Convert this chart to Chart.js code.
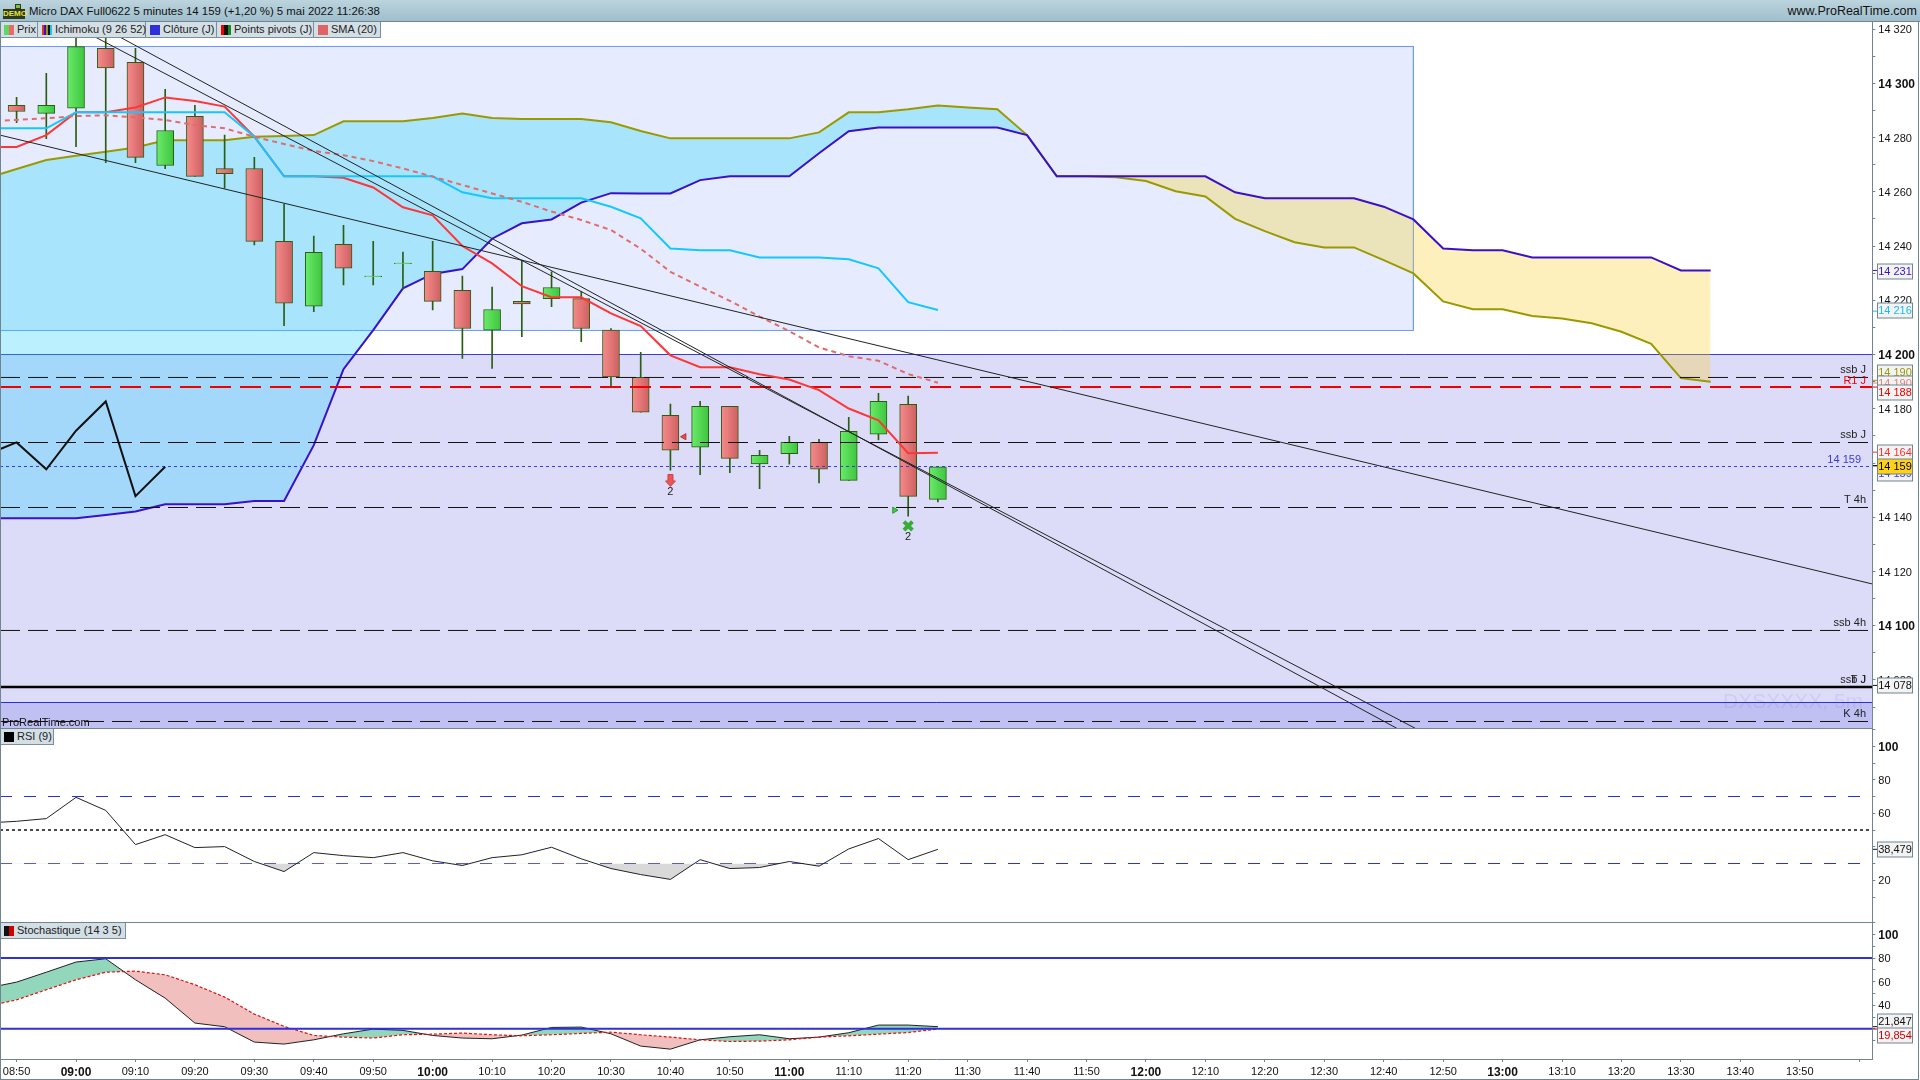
<!DOCTYPE html>
<html lang="fr">
<head>
<meta charset="UTF-8">
<title>Micro DAX Full0622</title>
<script src="https://cdn.jsdelivr.net/npm/chart.js"></script>
<style>
    html, body { margin: 0; padding: 0; background: #fff; width: 1920px; height: 1080px; overflow: hidden; font-family: "Liberation Sans", Arial, sans-serif; }
    canvas { position: absolute; left: 0; }
    .titlebar { position: absolute; left: 0; top: 0; width: 1920px; height: 21px; background: linear-gradient(#bcd4de, #9fbecc); border-bottom: 1px solid #6f8590; font-size: 11.4px; line-height: 22px; color: #111; }
    .titlebar .t1 { position: absolute; left: 29px; top: 0; white-space: nowrap; }
    .titlebar .t2 { position: absolute; right: 3px; top: 0; white-space: nowrap; font-size: 12.5px; }
    .logo { position: absolute; left: 3px; top: 9px; width: 22px; height: 10px; background: #2c3a22; color: #e8e23a; font: bold 8px/10px "Liberation Sans"; text-align: center; }
    .logo2 { position: absolute; left: 15px; top: 4px; width: 6px; height: 5px; background: #7fc23a; border: 1px solid #2c3a22; box-sizing: border-box; }
    .cell { position: absolute; height: 15px; background: #d3dee5; border: 1px solid #7b909b; border-top: none; border-left: none; font-size: 11px; line-height: 15px; color: #222; white-space: nowrap; box-sizing: content-box; z-index: 5; }
    .cell i { position: absolute; left: 4px; top: 3px; width: 10px; height: 10px; }
    .cell span { position: absolute; left: 17px; top: 0; }
    .frame { position: absolute; background: #6f8590; z-index: 6; }
    .credit { position: absolute; left: 2px; top: 716px; font-size: 11px; color: #111; z-index: 5; }
</style>
</head>
<body>
    <div class="titlebar">
        <div class="logo2"></div><div class="logo">DEMO</div>
        <div class="t1">Micro DAX Full0622 5 minutes 14 159 (+1,20 %) 5 mai 2022 11:26:38</div>
        <div class="t2">www.ProRealTime.com</div>
    </div>
    <div class="cell" style="left:0;top:22px;width:37px"><i style="background:linear-gradient(90deg,#5fd85f 50%,#e86a6a 50%)"></i><span>Prix</span></div>
    <div class="cell" style="left:38px;top:22px;width:107px"><i style="background:linear-gradient(90deg,#e03030 20%,#3a10c8 20%,#3a10c8 40%,#9a9a00 40%,#9a9a00 60%,#111 60%,#111 80%,#14c8ff 80%)"></i><span>Ichimoku (9 26 52)</span></div>
    <div class="cell" style="left:146px;top:22px;width:70px"><i style="background:#3030d8"></i><span>Clôture (J)</span></div>
    <div class="cell" style="left:217px;top:22px;width:96px"><i style="background:linear-gradient(90deg,#f00000 33%,#111 33%,#111 66%,#1a8a1a 66%)"></i><span>Points pivots (J)</span></div>
    <div class="cell" style="left:314px;top:22px;width:66px"><i style="background:#e06464"></i><span>SMA (20)</span></div>
    <div class="cell" style="left:0;top:729px;width:53px"><i style="background:#000"></i><span>RSI (9)</span></div>
    <div class="cell" style="left:0;top:923px;width:125px"><i style="background:linear-gradient(90deg,#111 50%,#d00000 50%)"></i><span>Stochastique (14 3 5)</span></div>
    <div class="credit">ProRealTime.com</div>

    <canvas id="priceChart" width="1920" height="706" style="top:22px"></canvas>
    <canvas id="rsiChart" width="1920" height="194" style="top:728px"></canvas>
    <canvas id="stochChart" width="1920" height="158" style="top:922px"></canvas>

    <div class="frame" style="left:0;top:22px;width:1px;height:1058px"></div>
    <div class="frame" style="left:1918px;top:22px;width:1px;height:1058px"></div>
    <div class="frame" style="left:0;top:728px;width:1873px;height:1px"></div>
    <div class="frame" style="left:0;top:922px;width:1873px;height:1px"></div>
    <div class="frame" style="left:0;top:1079px;width:1919px;height:1px"></div>

    <script>
        // time is in minutes after 08:50
        var timeSlots = [
            -5, 0, 5, 10, 15, 20, 25, 30, 35, 40,
            45, 50, 55, 60, 65, 70, 75, 80, 85, 90,
            95, 100, 105, 110, 115, 120, 125, 130, 135, 140,
            145, 150, 155, 160, 165, 170, 175, 180, 185, 190,
            195, 200, 205, 210, 215, 220, 225, 230, 235, 240,
            245, 250, 255, 260, 265, 270, 275, 280, 285
        ];
        var candleTimes = [0, 5, 10, 15, 20, 25, 30, 35, 40, 45, 50, 55, 60, 65, 70, 75, 80, 85, 90, 95, 100, 105, 110, 115, 120, 125, 130, 135, 140, 145, 150, 155];

        var opens = [14291.9, 14288.9, 14290.8, 14312.9, 14307.7, 14269.7, 14287.8, 14268.6, 14268.6, 14241.7, 14217.8, 14240.6, 14228.7, 14233.5, 14230.7, 14223.7, 14209.0, 14219.6, 14220.6, 14220.6, 14209.0, 14191.6, 14177.6, 14165.8, 14180.9, 14159.7, 14163.4, 14167.6, 14153.6, 14170.6, 14181.6, 14146.6];
        var closes = [14289.6, 14291.9, 14313.5, 14305.7, 14272.7, 14282.6, 14265.7, 14266.7, 14241.7, 14218.9, 14237.7, 14231.8, 14228.9, 14233.7, 14219.6, 14209.6, 14216.6, 14218.7, 14224.7, 14209.6, 14191.7, 14178.7, 14164.7, 14180.9, 14161.7, 14162.8, 14167.6, 14157.7, 14171.7, 14182.7, 14147.7, 14158.6];
        var highs = [14294.8, 14303.7, 14322.0, 14322.0, 14312.9, 14297.8, 14291.9, 14280.9, 14272.7, 14255.5, 14243.7, 14247.6, 14241.7, 14237.8, 14241.7, 14228.9, 14224.9, 14234.8, 14230.5, 14223.2, 14209.6, 14200.8, 14181.7, 14182.7, 14180.9, 14164.7, 14169.8, 14168.7, 14176.8, 14185.7, 14184.7, 14158.6];
        var lows = [14285.5, 14279.6, 14276.6, 14270.7, 14270.7, 14268.5, 14265.7, 14261.3, 14240.4, 14210.6, 14215.8, 14225.7, 14225.7, 14224.4, 14216.4, 14198.6, 14194.9, 14206.6, 14217.6, 14204.7, 14188.4, 14178.7, 14157.4, 14155.7, 14156.4, 14150.5, 14159.6, 14152.7, 14153.6, 14168.5, 14140.4, 14145.7];

        var senkouA = [
            14265.0, 14268.4, 14271.7, 14273.3, 14274.8, 14276.3, 14279.0, 14279.0, 14279.0, 14280.3,
            14280.6, 14280.9, 14286.0, 14286.0, 14286.0, 14287.2, 14288.9, 14287.2, 14286.8, 14286.8,
            14286.8, 14285.6, 14282.4, 14279.7, 14279.7, 14279.7, 14279.7, 14279.7, 14281.9, 14289.3,
            14289.3, 14290.4, 14291.8, 14291.1, 14290.4, 14280.9, 14265.7, 14265.7, 14265.4, 14264.0,
            14260.2, 14258.3, 14250.0, 14245.5, 14241.4, 14239.5, 14239.5, 14234.8, 14229.9, 14219.6,
            14216.7, 14216.7, 14214.2, 14213.3, 14211.5, 14208.4, 14203.9, 14191.3, 14190.0
        ];
        var senkouB = [
            14139.6, 14139.6, 14139.6, 14139.6, 14140.8, 14142.1, 14144.8, 14144.8, 14144.8, 14146.0,
            14146.0, 14166.6, 14194.6, 14209.0, 14224.4, 14229.7, 14231.5, 14242.7, 14248.4, 14249.8,
            14256.0, 14259.5, 14259.4, 14259.4, 14264.3, 14265.7, 14265.7, 14265.7, 14274.2, 14282.3,
            14283.7, 14283.7, 14283.7, 14283.7, 14283.7, 14280.9, 14265.7, 14265.7, 14265.7, 14265.7,
            14265.7, 14265.7, 14259.8, 14257.6, 14257.6, 14257.6, 14257.6, 14254.5, 14249.8, 14239.1,
            14238.4, 14238.4, 14235.8, 14235.8, 14235.8, 14235.8, 14235.8, 14231.0, 14231.0
        ];
        var kijun = [
            14283.4, 14283.4, 14283.4, 14289.3, 14289.3, 14289.3, 14289.3, 14289.3, 14289.3, 14280.3,
            14265.7, 14265.7, 14265.7, 14265.7, 14265.7, 14265.7, 14259.8, 14257.6, 14257.6, 14257.6,
            14257.6, 14254.5, 14250.2, 14239.1, 14238.4, 14238.4, 14235.8, 14235.8, 14235.8, 14235.1,
            14231.8, 14219.3, 14216.4
        ];
        var tenkan = [
            14276.5, 14276.5, 14280.9, 14289.3, 14289.3, 14291.1, 14294.8, 14293.5, 14291.4, 14280.3,
            14265.7, 14265.7, 14265.2, 14261.6, 14254.3, 14251.3, 14240.0, 14233.6, 14225.2, 14221.1,
            14221.1, 14215.2, 14210.5, 14199.7, 14195.3, 14195.3, 14192.7, 14190.8, 14186.9, 14180.1,
            14175.7, 14163.6, 14163.8
        ];
        var sma20 = [
            14286.0, 14286.5, 14287.1, 14287.9, 14288.2, 14287.4, 14286.5, 14284.6, 14283.4, 14280.3,
            14277.6, 14275.1, 14273.5, 14271.3, 14268.6, 14265.6, 14262.5, 14259.4, 14256.3, 14252.7,
            14249.6, 14245.9, 14239.0, 14230.5, 14225.0, 14219.8, 14214.0, 14208.6, 14202.6, 14199.4,
            14197.7, 14192.8, 14189.6
        ];
        var chikou = [14163.2, 14167.6, 14157.7, 14171.9, 14182.7, 14147.8, 14158.6];

        var rsiValues = [
            54.2, 55.2, 56.8, 69.5, 61.7, 41.3, 47.2, 39.5, 40.1, 31.2,
            25.2, 36.5, 34.7, 33.5, 36.5, 31.6, 28.8, 33.5, 35.2, 39.7,
            32.8, 27.0, 23.4, 20.5, 32.3, 27.0, 27.6, 31.2, 28.4, 38.7,
            44.9, 32.3, 38.48
        ];
        var stochK = [
            54.5, 59.6, 68.0, 76.6, 79.4, 61.6, 46.0, 24.9, 21.8, 8.8,
            7.1, 10.7, 15.8, 19.8, 18.7, 14.4, 12.2, 11.6, 14.7, 21.2,
            21.5, 15.8, 5.4, 2.8, 10.7, 13.3, 15.0, 11.6, 13.0, 16.7,
            23.2, 23.2, 21.85
        ];
        var stochD = [
            39.0, 44.6, 53.1, 61.6, 68.0, 68.9, 65.8, 57.4, 46.9, 32.5,
            22.1, 14.4, 13.0, 12.2, 15.0, 15.5, 16.4, 15.0, 14.1, 15.0,
            16.1, 17.2, 15.0, 13.0, 10.7, 9.3, 9.6, 10.7, 13.0, 14.1,
            15.5, 16.9, 19.85
        ];

        // pivots and hand drawn levels
        var dashedLevels = [14191.54, 14167.56, 14143.6, 14098.26, 14064.7];
        var pivotR1 = 14188.03;
        var closeLevel = 14077.4;
        var lastLevel = 14158.72;
        var levelNames = ['ssb J', 'R1 J', 'ssb J', 'T 4h', 'ssb 4h', 'ssb J', 'T J', 'K 4h'];
        var levelPrices = [14191.5, 14188.1, 14167.6, 14143.7, 14098.3, 14077.4, 14077.4, 14064.8];
        var levelColors = ['#222', '#f00000', '#222', '#222', '#222', '#222', '#222', '#222'];
        var levelLift = [7.5, 6, 7.5, 7.5, 7.5, 7.5, 7.5, 7.5];

        var zoneTop = [14313.57, 14208.86];
        var zoneTimes = [-3, 235];
        var lowerZoneTop = 14200;
        var lowestZoneTop = 14071.7;

        var trendShallowT = [-2.8, 312.2], trendShallowP = [14280.9, 14115.4];
        var trendAT = [12.7, 232.2], trendAP = [14322.6, 14062.2];
        var trendBT = [8.4, 235.3], trendBP = [14322.6, 14062.2];

        // value boxes on the right axis, nudged like the platform does it
        var boxLabels = ['14 231', '14 216', '14 190', '14 190', '14 188', '14 159', '14 164', '14 159', '14 078'];
        var boxPrices = [14231, 14216, 14190.5, 14189.5, 14188, 14159, 14164, 14159, 14078];
        var boxNudge = [1, -1, -8, 0, 5, 7, 0, 0, 0];
        var boxColors = ['#3a10c8', '#14bdf0', '#9a9a00', '#e88080', '#f00000', '#3a3ae0', '#ff3030', '#000', '#111'];
        var rsiBoxLabels = ['38,479'], rsiBoxValues = [38.48], rsiBoxColors = ['#111'], rsiBoxNudge = [0];
        var stochBoxLabels = ['21,847', '19,854'], stochBoxValues = [21.85, 19.85], stochBoxColors = ['#111', '#d00000'], stochBoxNudge = [-6, 6];

        var xMin = -2.79, xMax = 312.2;
        var gray = '#6f8590';
        var regular = { family: 'Liberation Sans', size: 11 };
        var bold = { family: 'Liberation Sans', size: 12, weight: 'bold' };

        function pts(values) {
            return values.map(function (v, i) { return { x: timeSlots[i], y: v }; });
        }
        function twoPts(ts, ps) {
            return ts.map(function (t, i) { return { x: t, y: ps[i] }; });
        }
        function flat(y) {
            return [{ x: xMin, y: y }, { x: xMax, y: y }];
        }
        function line(data, color, width, dash, order) {
            return { type: 'line', data: data, borderColor: color, borderWidth: width, borderDash: dash || [], pointRadius: 0, tension: 0, fill: false, order: order };
        }

        function bodyFill(c) {
            var green = closes[c.dataIndex] > opens[c.dataIndex];
            var mid = c.parsed ? c.chart.scales.x.getPixelForValue(c.parsed.x) : NaN;
            if (!isFinite(mid)) return green ? '#5fd85f' : '#e86a6a';
            var g = c.chart.ctx.createLinearGradient(mid - 9, 0, mid + 9, 0);
            g.addColorStop(0, green ? '#6cec6c' : '#f88c8c');
            g.addColorStop(1, green ? '#3cc43c' : '#cc5e5e');
            return g;
        }

        function noPadding(s) {
            s.paddingTop = 0; s.paddingBottom = 0; s.paddingLeft = 0; s.paddingRight = 0;
        }

        function axisTicks(labelFn, step) {
            return {
                stepSize: step,
                includeBounds: false,
                autoSkip: false,
                maxRotation: 0,
                crossAlign: 'near',
                padding: 3,
                labelOffset: 1,
                color: '#111',
                font: function (c) { return c.tick && c.tick.value % 100 === 0 && c.tick.value !== 0 ? bold : regular; },
                callback: labelFn
            };
        }

        function paneScales(yMin, yMax, labelFn, step, showX) {
            return {
                x: {
                    type: 'linear', min: xMin, max: xMax, offset: false, display: showX,
                    afterFit: function (s) { s.height = showX ? 21 : 0; noPadding(s); },
                    border: { color: gray },
                    grid: { drawOnChartArea: false, offset: false, tickLength: 3, tickColor: gray },
                    ticks: {
                        stepSize: 10, includeBounds: false, autoSkip: false, maxRotation: 0, padding: 3, color: '#111',
                        font: function (c) { return c.tick && (c.tick.value + 50) % 60 === 0 ? bold : regular; },
                        callback: function (v) {
                            if (v >= 310) return '';
                            var total = 530 + v;
                            var h = Math.floor(total / 60), m = total % 60;
                            return (h < 10 ? '0' : '') + h + ':' + (m < 10 ? '0' : '') + m;
                        }
                    }
                },
                y: {
                    position: 'right', min: yMin, max: yMax,
                    afterFit: function (s) { s.width = 47.7; noPadding(s); },
                    border: { color: gray },
                    grid: {
                        drawOnChartArea: false, tickLength: 3,
                        tickColor: function (c) { return c.tick && c.tick.value === 0 ? 'transparent' : gray; }
                    },
                    ticks: axisTicks(labelFn, step)
                }
            };
        }

        function priceLabel(v) {
            if (v % 20 !== 0) return '';
            var s = String(v);
            return s.slice(0, 2) + ' ' + s.slice(2);
        }
        function oscLabel(v) {
            return v > 0 && v % 20 === 0 ? String(v) : '';
        }

        function boxPlugin(labels, values, nudges, colors) {
            return {
                id: 'valueBoxes',
                afterDraw: function (chart) {
                    var ctx = chart.ctx, sc = chart.scales.y;
                    ctx.save();
                    ctx.font = '11px "Liberation Sans"';
                    ctx.textAlign = 'center';
                    ctx.textBaseline = 'middle';
                    for (var i = 0; i < labels.length; i++) {
                        var py = sc.getPixelForValue(values[i]);
                        var my = Math.round(py + nudges[i]) + 0.5;
                        ctx.strokeStyle = colors[i];
                        ctx.beginPath();
                        ctx.moveTo(1873, py);
                        ctx.lineTo(1878, py);
                        ctx.stroke();
                        var gold = labels === boxLabels && i === 7;
                        ctx.fillStyle = gold ? '#ffd21a' : '#f3f3f3';
                        ctx.fillRect(1877.5, my - 7.5, 35, 15);
                        ctx.strokeStyle = gray;
                        ctx.strokeRect(1877.5, my - 7.5, 35, 15);
                        ctx.fillStyle = colors[i];
                        ctx.fillText(labels[i], 1895, my + 0.5);
                    }
                    ctx.restore();
                }
            };
        }

        var levelText = {
            id: 'levelText',
            afterDatasetsDraw: function (chart) {
                var ctx = chart.ctx, sc = chart.scales.y, sx = chart.scales.x;
                ctx.save();
                ctx.textBaseline = 'middle';
                ctx.textAlign = 'left';
                ctx.font = '21px "Liberation Sans"';
                ctx.fillStyle = 'rgba(80,80,190,0.10)';
                ctx.fillText('DXSXXXX, 5m', 1723, sc.getPixelForValue(14071.8));
                ctx.textAlign = 'right';
                ctx.font = '11px "Liberation Sans"';
                for (var i = 0; i < levelNames.length; i++) {
                    ctx.fillStyle = levelColors[i];
                    ctx.fillText(levelNames[i], 1866, sc.getPixelForValue(levelPrices[i]) - levelLift[i]);
                }
                ctx.fillStyle = '#3a3ae0';
                ctx.fillText('14 159', 1861, sc.getPixelForValue(lastLevel) - 7);
                ctx.textAlign = 'center';
                ctx.fillStyle = '#222';
                ctx.fillText('2', sx.getPixelForValue(110), sc.getPixelForValue(14149.4));
                ctx.fillText('2', sx.getPixelForValue(150), sc.getPixelForValue(14132.7));
                ctx.restore();
            }
        };

        // small fat arrow for the sell signal
        var arrow = document.createElement('canvas');
        arrow.width = 11; arrow.height = 13;
        (function () {
            var a = arrow.getContext('2d');
            a.fillStyle = '#ee5555';
            a.strokeStyle = '#c84040';
            a.beginPath();
            a.moveTo(3, 0.5); a.lineTo(8, 0.5); a.lineTo(8, 7); a.lineTo(10.5, 7); a.lineTo(5.5, 12.5); a.lineTo(0.5, 7); a.lineTo(3, 7);
            a.closePath(); a.fill(); a.stroke();
        })();

        var priceBottom = 14062.3, priceTop = 14322.6;

        new Chart(document.getElementById('priceChart').getContext('2d'), {
            type: 'line',
            data: {
                datasets: [
                    // zones
                    Object.assign(line(flat(lowerZoneTop), '#3a3ad8', 1, [], 60), { fill: { target: { value: priceBottom - 5 }, above: '#dddcf8', below: '#dddcf8' } }),
                    Object.assign(line(flat(lowestZoneTop), '#2e2ee0', 1, [], 59), { fill: { target: { value: priceBottom - 5 }, above: '#c1c0f2', below: '#c1c0f2' } }),
                    Object.assign(line(twoPts(zoneTimes, [zoneTop[0], zoneTop[0]]), '#6a9cff', 1, [], 58), { fill: { target: { value: zoneTop[1] }, above: '#e6ecfd', below: '#e6ecfd' } }),
                    line(twoPts([zoneTimes[0], zoneTimes[1], zoneTimes[1], zoneTimes[0]], [zoneTop[0], zoneTop[0], zoneTop[1], zoneTop[1]]), '#6a9cff', 1, [], 57),
                    // kumo
                    Object.assign(line(pts(senkouA), '#9a9a00', 2, [], 50), { fill: { target: '+1', above: 'rgba(30,210,255,0.3)', below: 'rgba(248,205,32,0.3)' } }),
                    line(pts(senkouB), '#3a10c8', 2, [], 49),
                    // candles
                    {
                        type: 'bar', order: 40, grouped: false, barThickness: 1, backgroundColor: '#2b5d13', borderWidth: 0,
                        data: candleTimes.map(function (t, i) { return { x: t, y: [lows[i], highs[i]] }; })
                    },
                    {
                        type: 'bar', order: 39, grouped: false, barThickness: 17, borderColor: '#2b5d13', borderWidth: 1, borderSkipped: false,
                        backgroundColor: bodyFill,
                        data: candleTimes.map(function (t, i) { return { x: t, y: [opens[i], closes[i]] }; })
                    },
                    // levels
                    line(flat(dashedLevels[0]), '#111', 1, [20, 8], 30),
                    line(flat(dashedLevels[1]), '#111', 1, [20, 8], 30),
                    line(flat(dashedLevels[2]), '#111', 1, [20, 8], 30),
                    line(flat(dashedLevels[3]), '#111', 1, [20, 8], 30),
                    line(flat(dashedLevels[4]), '#111', 1, [20, 8], 30),
                    line(flat(lastLevel), '#3a3ae0', 1, [3, 3], 30),
                    line(flat(closeLevel), '#000', 2.5, [], 29),
                    line(flat(pivotR1), '#f00000', 2, [21, 9], 28),
                    // indicators
                    line(pts(tenkan), '#ff3636', 2, [], 20),
                    line(pts(kijun), '#14c8ff', 2, [], 19),
                    line(pts(sma20), '#e06c6c', 2, [5, 4], 18),
                    line(pts(chikou), '#111', 2, [], 17),
                    // trend lines
                    line(twoPts(trendShallowT, trendShallowP), '#222', 1, [], 10),
                    line(twoPts(trendAT, trendAP), '#222', 1, [], 10),
                    line(twoPts(trendBT, trendBP), '#222', 1, [], 10),
                    // signals
                    { type: 'line', order: 5, showLine: false, pointStyle: arrow, pointRadius: 6, data: [{ x: 110, y: 14153.6 }] },
                    { type: 'line', order: 5, showLine: false, pointStyle: 'triangle', rotation: -90, radius: 3.5, backgroundColor: '#e85050', borderColor: '#b03030', borderWidth: 1, data: [{ x: 112.3, y: 14169.7 }] },
                    { type: 'line', order: 5, showLine: false, pointStyle: 'triangle', rotation: 90, radius: 3.5, backgroundColor: '#40d040', borderColor: '#2a9a2a', borderWidth: 1, data: [{ x: 147.7, y: 14142.6 }] },
                    { type: 'line', order: 5, showLine: false, pointStyle: 'crossRot', radius: 6, borderColor: '#36ad36', borderWidth: 4, data: [{ x: 150, y: 14136.8 }] }
                ]
            },
            options: {
                responsive: false, animation: false,
                layout: { autoPadding: false, padding: 0 },
                plugins: { legend: { display: false }, tooltip: { enabled: false } },
                scales: paneScales(priceBottom, priceTop, priceLabel, 10, false)
            },
            plugins: [levelText, boxPlugin(boxLabels, boxPrices, boxNudge, boxColors)]
        });

        new Chart(document.getElementById('rsiChart').getContext('2d'), {
            type: 'line',
            data: {
                datasets: [
                    Object.assign(line(pts(rsiValues), '#222', 1, [], 10), { fill: { target: { value: 30 }, above: 'rgba(0,0,0,0)', below: '#d9d9d9' } }),
                    line(flat(70), '#3030d8', 1, [12, 12], 20),
                    line(flat(50), '#111', 1.5, [3, 3], 20),
                    line(flat(30), '#3030d8', 1, [12, 12], 20)
                ]
            },
            options: {
                responsive: false, animation: false,
                layout: { autoPadding: false, padding: 0 },
                plugins: { legend: { display: false }, tooltip: { enabled: false } },
                scales: paneScales(-4.92, 110.9, oscLabel, 10, false)
            },
            plugins: [boxPlugin(rsiBoxLabels, rsiBoxValues, rsiBoxNudge, rsiBoxColors)]
        });

        new Chart(document.getElementById('stochChart').getContext('2d'), {
            type: 'line',
            data: {
                datasets: [
                    Object.assign(line(pts(stochK), '#222', 1, [], 12), { fill: { target: '+1', above: '#92d6bc', below: '#f2bfbf' } }),
                    line(pts(stochD), '#e01010', 1.2, [3, 2], 11),
                    line(flat(80), '#3030d8', 2, [], 5),
                    line(flat(20), '#3030d8', 2, [], 5)
                ]
            },
            options: {
                responsive: false, animation: false,
                layout: { autoPadding: false, padding: 0 },
                plugins: { legend: { display: false }, tooltip: { enabled: false } },
                scales: paneScales(-5.55, 110.55, oscLabel, 10, true)
            },
            plugins: [boxPlugin(stochBoxLabels, stochBoxValues, stochBoxNudge, stochBoxColors)]
        });
    </script>
</body>
</html>
